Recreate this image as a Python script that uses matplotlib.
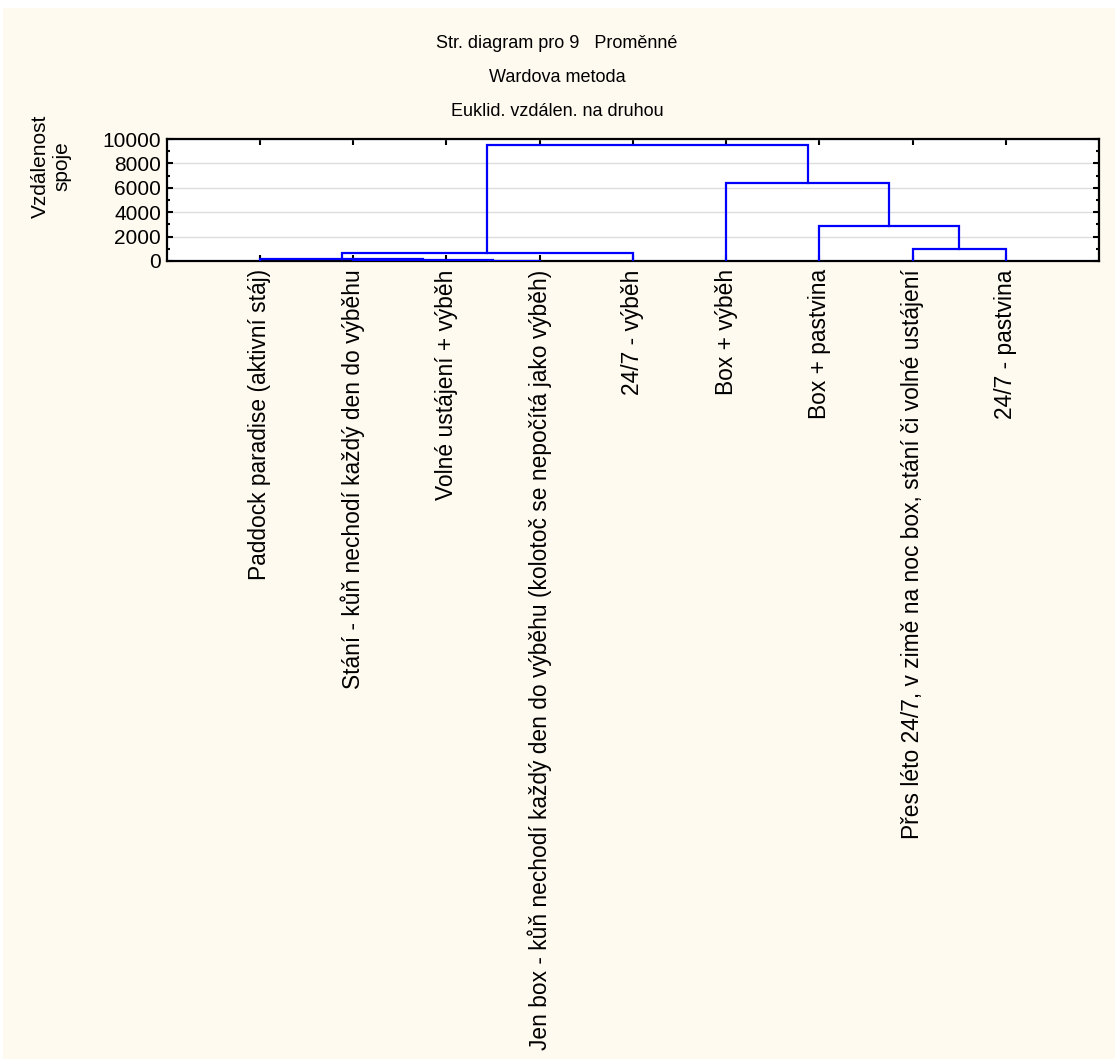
import matplotlib.pyplot as plt
from matplotlib.patches import Rectangle
from matplotlib.ticker import MultipleLocator

# leaf labels in the order they appear on the x axis
labels = [
    "Paddock paradise (aktivní stáj)",
    "Stání - kůň nechodí každý den do výběhu",
    "Volné ustájení + výběh",
    "Jen box - kůň nechodí každý den do výběhu (kolotoč se nepočítá jako výběh)",
    "24/7 - výběh",
    "Box + výběh",
    "Box + pastvina",
    "Přes léto 24/7, v zimě na noc box, stání či volné ustájení",
    "24/7 - pastvina",
]

# merges: left node, right node, linkage distance (nodes 0-8 are leaves, 9+ are clusters)
merge_left = [2, 1, 0, 11, 7, 6, 5, 12]
merge_right = [3, 9, 10, 4, 8, 13, 14, 15]
merge_dist = [40, 70, 170, 630, 960, 2870, 6420, 9500]

title_lines = ["Str. diagram pro 9   Proměnné", "Wardova metoda", "Euklid. vzdálen. na druhou"]
y_ticks = [0, 2000, 4000, 6000, 8000, 10000]

plt.rcParams['font.family'] = ['Liberation Sans', 'DejaVu Sans']

W, H = 1115, 1059
fig = plt.figure(figsize=(W / 100, H / 100), dpi=100)
fig.patch.set_facecolor('white')
fig.patches.append(Rectangle((3 / W, 0), 1, 1 - 8 / H, transform=fig.transFigure,
                             facecolor='#FFFAF0', edgecolor='none', zorder=-10))

ax = fig.add_axes([166.75 / W, 1 - 261 / H, (1099 - 166.75) / W, 122 / H])
ax.set_facecolor('white')

# node positions (x) and heights (y)
node_x = {i: i + 1 for i in range(len(labels))}
node_y = {i: 0 for i in range(len(labels))}
for k, (a, b, d) in enumerate(zip(merge_left, merge_right, merge_dist)):
    new = len(labels) + k
    xa, xb = node_x[a], node_x[b]
    ax.plot([xa, xa, xb, xb], [node_y[a], d, d, node_y[b]], color='#0000FF', lw=1.6,
            solid_joinstyle='miter', zorder=3)
    node_x[new] = (xa + xb) / 2
    node_y[new] = d

ax.set_xlim(0, 10)
ax.set_ylim(0, 10000)
ax.set_yticks(y_ticks)
ax.yaxis.set_minor_locator(MultipleLocator(1000))
ax.set_xticks(range(1, len(labels) + 1))
ax.set_xticklabels(labels, rotation=90, fontsize=16.4, va='top', ha='center')
ax.tick_params(axis='y', labelsize=15, direction='in', right=True, length=4, width=1.5, pad=4)
ax.tick_params(axis='y', which='minor', direction='in', right=True, length=2, width=1.5)
ax.tick_params(axis='x', direction='in', top=True, length=4, width=1.5, pad=6)
ax.grid(axis='y', color='#DDDDDD', lw=1)
for s in ax.spines.values():
    s.set_linewidth(1.6)

fig.text(51 / W, 1 - 166 / H, "Vzdálenost\nspoje", rotation=90, ha='center', va='center',
         fontsize=15, multialignment='center', linespacing=1.2)

for y, t in zip([43, 77, 112], title_lines):
    fig.text(557 / W, 1 - y / H, t, ha='center', va='center', fontsize=13,
             family=['Liberation Sans Narrow', 'Liberation Sans', 'DejaVu Sans'])

fig.savefig('out.png', dpi=100, facecolor=fig.get_facecolor())
